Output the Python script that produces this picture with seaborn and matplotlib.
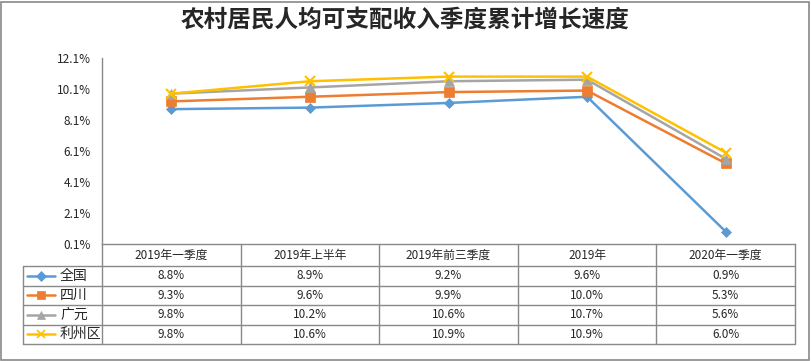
import pandas as pd
import numpy as np
import matplotlib.pyplot as plt
import seaborn as sns
from matplotlib.lines import Line2D
from matplotlib.patches import Rectangle

# data
periods = ["2019年一季度", "2019年上半年", "2019年前三季度", "2019年", "2020年一季度"]
regions = ["全国", "四川", "广元", "利州区"]
quanguo = [8.8, 8.9, 9.2, 9.6, 0.9]
sichuan = [9.3, 9.6, 9.9, 10.0, 5.3]
guangyuan = [9.8, 10.2, 10.6, 10.7, 5.6]
lizhou = [9.8, 10.6, 10.9, 10.9, 6.0]
yticks = [0.1, 2.1, 4.1, 6.1, 8.1, 10.1, 12.1]

colors = ["#5B9BD5", "#ED7D31", "#A5A5A5", "#FFC000"]
markers = ["D", "s", "^", "x"]
msizes = [5, 7, 7, 7]

series = dict(zip(regions, [quanguo, sichuan, guangyuan, lizhou]))
df = pd.DataFrame([
    {"period": p, "pos": i, "region": r, "value": v}
    for r, vals in series.items() for i, (p, v) in enumerate(zip(periods, vals))
])

sns.set_style("white")
plt.rcParams['font.family'] = ['Noto Sans CJK SC', 'DejaVu Sans']

W, H = 811, 361
fig = plt.figure(figsize=(W / 100, H / 100), dpi=100)

def px(x, y):
    return x / W, 1 - y / H

left, right, top, bottom = 102, 795, 58, 244
ax = fig.add_axes([left / W, 1 - bottom / H, (right - left) / W, (bottom - top) / H])

for r, c, m, ms in zip(regions, colors, markers, msizes):
    sub = df[df["region"] == r]
    sns.lineplot(data=sub, x="pos", y="value", color=c, marker=m, markersize=ms,
                 markeredgecolor=c, markeredgewidth=1.5 if m == "x" else 0.5,
                 linewidth=1.8, ax=ax, sort=False, legend=False)

ax.set_xlim(-0.5, len(periods) - 0.5)
ax.set_ylim(yticks[0], yticks[-1])
ax.set_yticks(yticks)
ax.set_yticklabels([f"{t:.1f}%" for t in yticks], fontsize=8.5)
ax.set_xticks([])
ax.set_xlabel("")
ax.set_ylabel("")
ax.tick_params(axis="y", length=0, pad=8)
for s in ["top", "right"]:
    ax.spines[s].set_visible(False)
for s in ["left", "bottom"]:
    ax.spines[s].set_color("#898989")
    ax.spines[s].set_linewidth(1)

# title
fig.text(0.5, px(0, 20)[1], "农村居民人均可支配收入季度累计增长速度", ha="center", va="center",
         fontsize=17, fontweight="bold")

# data table under the axis
grid_c = "#898989"
col_w = (right - left) / len(periods)
rows_y = [244, 266, 285.5, 305, 324.5, 344]
lab_left = 23

def hline(x0, x1, y):
    fig.add_artist(Line2D([x0 / W, x1 / W], [1 - y / H, 1 - y / H], color=grid_c, lw=1))

def vline(x, y0, y1):
    fig.add_artist(Line2D([x / W, x / W], [1 - y0 / H, 1 - y1 / H], color=grid_c, lw=1))

for y in rows_y[1:]:
    hline(lab_left, right, y)
for i in range(len(periods) + 1):
    vline(left + i * col_w, rows_y[0], rows_y[-1])
vline(lab_left, rows_y[1], rows_y[-1])

for i, p in enumerate(periods):
    cx = left + (i + 0.5) * col_w
    fig.text(*px(cx, (rows_y[0] + rows_y[1]) / 2), p, ha="center", va="center", fontsize=8.5)

for j, (r, c, m) in enumerate(zip(regions, colors, markers)):
    cy = (rows_y[j + 1] + rows_y[j + 2]) / 2
    x0, y0 = px(27, cy)
    x1, _ = px(55, cy)
    fig.add_artist(Line2D([x0, x1], [y0, y0], color=c, lw=1.8))
    fig.add_artist(Line2D([(x0 + x1) / 2], [y0], color=c, marker=m,
                          markersize=5 if m == "D" else 6, markeredgecolor=c,
                          markeredgewidth=1.2 if m == "x" else 0.5))
    fig.text(*px(60, cy), r, ha="left", va="center", fontsize=10)
    for i, v in enumerate(series[r]):
        cx = left + (i + 0.5) * col_w
        fig.text(*px(cx, cy), f"{v:.1f}%", ha="center", va="center", fontsize=8.5)

# outer chart border
fig.add_artist(Rectangle((1 / W, 1 / H), (W - 3) / W, (H - 3) / H, transform=fig.transFigure,
                         fill=False, edgecolor="#898989", lw=1.2))

fig.savefig("out.png", dpi=100)
